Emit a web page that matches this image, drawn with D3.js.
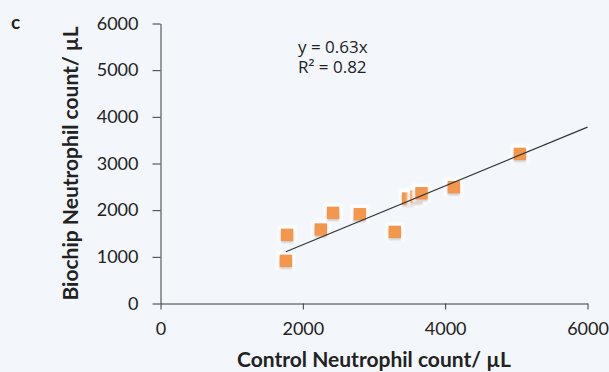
<!DOCTYPE html>
<html>
<head>
<meta charset="utf-8">
<script src="https://cdn.jsdelivr.net/npm/d3@7"></script>
<style>
  html, body { margin: 0; padding: 0; background: #f3f7fb; }
  svg { display: block; }
  text { font-family: Lato, "Open Sans", sans-serif; fill: #222; }
</style>
</head>
<body>
<svg id="chart" width="609" height="372"></svg>
<script>
// Neutrophil counts per µL: control method vs. biochip
const controlCounts = [1779, 1761, 2252, 2425, 2800, 3292, 3479, 3597, 3667, 4121, 5049];
const biochipCounts = [1472, 915, 1586, 1943, 1914, 1536, 2250, 2293, 2363, 2492, 3207];
const xTicks = [0, 2000, 4000, 6000];
const yTicks = [0, 1000, 2000, 3000, 4000, 5000, 6000];
const slope = 0.63;
const equationLines = ["y = 0.63x", "R² = 0.82"];

const svg = d3.select("#chart");

const x = d3.scaleLinear().domain([0, 6000]).range([160.5, 587.5]);
const y = d3.scaleLinear().domain([0, 6000]).range([303.5, 23.5]);

// soft white halo with a faint shadow under each marker
const defs = svg.append("defs");
const f = defs.append("filter").attr("id", "halo")
  .attr("x", "-50%").attr("y", "-50%").attr("width", "200%").attr("height", "200%");
f.append("feMorphology").attr("in", "SourceAlpha").attr("operator", "dilate").attr("radius", 2.5).attr("result", "grown");
f.append("feGaussianBlur").attr("in", "grown").attr("stdDeviation", 1).attr("result", "grownBlur");
f.append("feFlood").attr("flood-color", "#ffffff").attr("result", "white");
f.append("feComposite").attr("in", "white").attr("in2", "grownBlur").attr("operator", "in").attr("result", "haloW");
f.append("feOffset").attr("in", "SourceAlpha").attr("dy", 1.5).attr("result", "off");
f.append("feGaussianBlur").attr("in", "off").attr("stdDeviation", 0.8).attr("result", "offBlur");
f.append("feFlood").attr("flood-color", "#9a9a9a").attr("flood-opacity", 0.6).attr("result", "grey");
f.append("feComposite").attr("in", "grey").attr("in2", "offBlur").attr("operator", "in").attr("result", "shadow");
const m = f.append("feMerge");
m.append("feMergeNode").attr("in", "haloW");
m.append("feMergeNode").attr("in", "shadow");
m.append("feMergeNode").attr("in", "SourceGraphic");

// axes
const xAxis = d3.axisBottom(x).tickValues(xTicks).tickSizeInner(6).tickSizeOuter(0).tickPadding(13).tickFormat(d3.format("d"));
const yAxis = d3.axisLeft(y).tickValues(yTicks).tickSizeInner(8).tickSizeOuter(0).tickPadding(14).tickFormat(d3.format("d"));

const gx = svg.append("g").attr("transform", `translate(0,${y(0)})`).call(xAxis);
const gy = svg.append("g").attr("transform", `translate(${x(0)},0)`).call(yAxis);
[gx, gy].forEach(g => {
  g.selectAll("path, line").attr("stroke", "#3a3a3a").attr("stroke-width", 1);
  g.selectAll("text").style("font-size", "18px").attr("fill", "#222");
});

// markers
const pts = controlCounts.map((c, i) => ({ c, b: biochipCounts[i] }));
const size = 12.5;
svg.append("g").selectAll("rect").data(pts).join("rect")
  .attr("x", d => x(d.c) - size / 2)
  .attr("y", d => y(d.b) - size / 2)
  .attr("width", size).attr("height", size)
  .attr("fill", "#f2974b")
  .attr("filter", "url(#halo)");

// linear fit through the origin, extended to the axis end
const x0 = d3.min(controlCounts);
svg.append("line")
  .attr("x1", x(x0)).attr("y1", y(slope * x0))
  .attr("x2", x(6000)).attr("y2", y(slope * 6000))
  .attr("stroke", "#333").attr("stroke-width", 1.2);

// fit equation
svg.append("g").selectAll("text").data(equationLines).join("text")
  .attr("x", 298).attr("y", (d, i) => 53 + i * 19.5)
  .style("font-family", "'Open Sans', Lato, sans-serif")
  .style("font-size", "17px")
  .text(d => d);

// axis titles
svg.append("text")
  .attr("x", (x(0) + x(6000)) / 2).attr("y", 367)
  .attr("text-anchor", "middle")
  .style("font-size", "21px").style("font-weight", "bold")
  .text("Control Neutrophil count/ µL");

svg.append("text")
  .attr("transform", `translate(78,${(y(0) + y(6000)) / 2}) rotate(-90)`)
  .attr("text-anchor", "middle")
  .style("font-size", "21px").style("font-weight", "bold")
  .text("Biochip Neutrophil count/ µL");

// panel label
svg.append("text")
  .attr("x", 11).attr("y", 29)
  .style("font-size", "19px").style("font-weight", "bold")
  .text("c");
</script>
</body>
</html>
